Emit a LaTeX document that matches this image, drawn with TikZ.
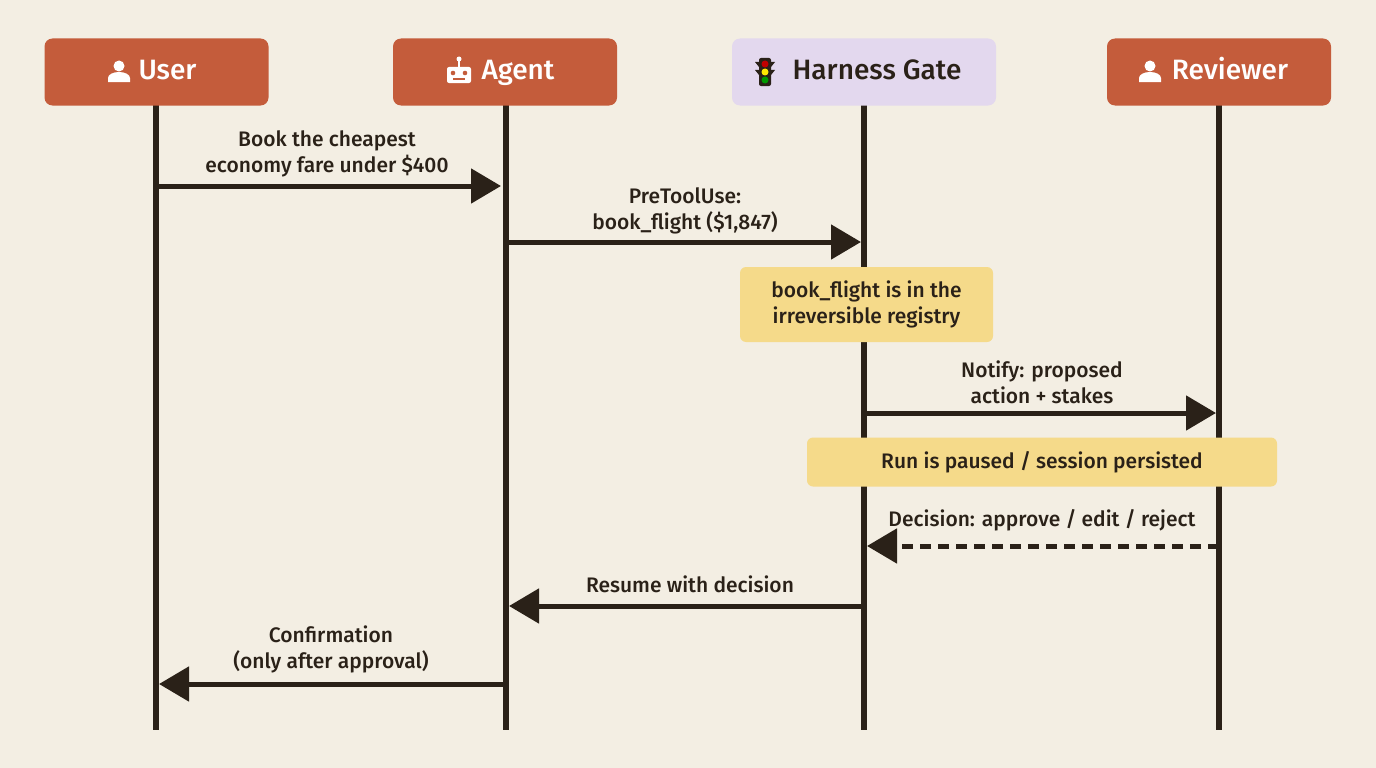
\documentclass[tikz,border=0pt]{standalone}
\usepackage{fontspec}
\setmainfont{Fira Sans}[UprightFont=* Medium]
\usetikzlibrary{arrows.meta}
\definecolor{bg}{HTML}{F3EEE3}
\definecolor{org}{HTML}{C45C3B}
\definecolor{lav}{HTML}{E3D8EE}
\definecolor{yel}{HTML}{F5DA8A}
\definecolor{ink}{HTML}{2A2118}
\begin{document}
\begin{tikzpicture}[x=1pt,y=-1pt,
 hdr/.style={rounded corners=8pt,minimum width=224pt,minimum height=67pt,font=\fontsize{28}{30}\selectfont,inner sep=0pt,text height=19pt,text depth=3pt},
 life/.style={ink,line width=6pt},
 msg/.style={ink,line width=5pt,-{Triangle[length=30pt,width=34pt]}},
 lbl/.style={font=\fontsize{21}{26}\selectfont,align=center,text=ink},
 note/.style={fill=yel,rounded corners=6pt,font=\fontsize{21}{26}\selectfont,align=center,text=ink}]
\fill[bg] (0,0) rectangle (1376,768);
\useasboundingbox (0,0) rectangle (1376,768);
\coordinate (u0) at (156,105); \coordinate (u1) at (156,730);
\coordinate (a0) at (506,105); \coordinate (a1) at (506,730);
\coordinate (h0) at (864,105); \coordinate (h1) at (864,730);
\coordinate (r0) at (1219,105); \coordinate (r1) at (1219,730);
\draw[life] (u0)--(u1); \draw[life] (a0)--(a1); \draw[life] (h0)--(h1); \draw[life] (r0)--(r1);
\node[hdr,fill=org,text=white] (U) at (156.5,72) {\hspace*{22pt}User};
\node[hdr,fill=org,text=white] (A) at (505,72) {\hspace*{26pt}Agent};
\node[hdr,fill=lav,text=ink,minimum width=264pt] (H) at (864,72) {\hspace*{26pt}Harness Gate};
\node[hdr,fill=org,text=white] (R) at (1219,72) {\hspace*{22pt}Reviewer};
% person icons
\foreach \x in {119,1150}{
 \fill[white] (\x,66) circle (5.5);
 \fill[white] (\x-11,82) -- (\x-11,78) arc[start angle=180,end angle=0,x radius=11,y radius=-6] -- (\x+11,82) -- cycle;}
% robot icon
\fill[white,rounded corners=2pt] (447,67) rectangle (471,83);
\fill[white] (459,59) circle (2.5); \draw[white,line width=2pt] (459,60)--(459,67);
\fill[org] (453,73) circle (2.3); \fill[org] (465,73) circle (2.3);
\fill[org] (453,78.5) rectangle (465,80);
% traffic light
\fill[ink,rounded corners=2pt] (759,58) rectangle (771,86);
\fill[ink] (755,62)--(759,62)--(759,67)--cycle; \fill[ink] (775,62)--(771,62)--(771,67)--cycle;
\fill[ink] (755,70)--(759,70)--(759,75)--cycle; \fill[ink] (775,70)--(771,70)--(771,75)--cycle;
\fill[red!75!black] (765,64) circle (3.5);
\fill[yellow!90!orange] (765,72) circle (3.5);
\fill[green!60!black] (765,80) circle (3.5);
% messages
\coordinate (m1s) at (156,186); \coordinate (m1e) at (501,186);
\draw[msg] (m1s)--(m1e);
\node[lbl] (l1) at (327,154) {Book the cheapest\\economy fare under \$400};
\coordinate (m2s) at (506,242); \coordinate (m2e) at (861,242);
\draw[msg] (m2s)--(m2e);
\node[lbl] (l2) at (685,211) {PreToolUse:\\book\_flight (\$1,847)};
\node[note,minimum width=253pt,minimum height=75pt] (n1) at (866.5,304.5) {book\_flight is in the\\irreversible registry};
\coordinate (m3s) at (864,413); \coordinate (m3e) at (1216,413);
\draw[msg] (m3s)--(m3e);
\node[lbl] (l3) at (1042,382) {Notify: proposed\\action + stakes};
\node[note,minimum width=470pt,minimum height=49pt] (n2) at (1042,462) {Run is paused / session persisted};
\coordinate (m4s) at (1219,546); \coordinate (m4e) at (867,546);
\draw[msg,dash pattern=on 11pt off 7pt] (m4s)--(m4e);
\node[lbl] (l4) at (1042,520) {Decision: approve / edit / reject};
\coordinate (m5s) at (864,606); \coordinate (m5e) at (509,606);
\draw[msg] (m5s)--(m5e);
\node[lbl] (l5) at (690,584) {Resume with decision};
\coordinate (m6s) at (506,684); \coordinate (m6e) at (159,684);
\draw[msg] (m6s)--(m6e);
\node[lbl] (l6) at (331,649) {Confirmation\\(only after approval)};
\end{tikzpicture}
\end{document}
